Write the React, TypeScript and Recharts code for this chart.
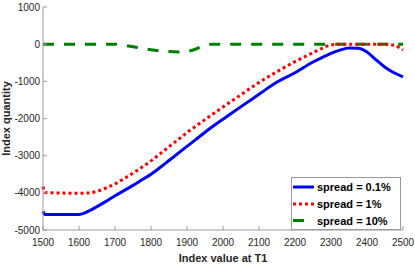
import React from 'react';
import { LineChart, Line, XAxis, YAxis, Legend, Label } from 'recharts';

const indexValues = [1500, 1505, 1525, 1550, 1575, 1600, 1625, 1650, 1675, 1700, 1725, 1750, 1775, 1800, 1825, 1850, 1875, 1900, 1925, 1950, 1975, 2000, 2050, 2100, 2150, 2200, 2250, 2275, 2300, 2325, 2350, 2375, 2400, 2425, 2450, 2475, 2500];
const spread01 = [-4500, -4580, -4585, -4585, -4585, -4580, -4500, -4370, -4230, -4080, -3940, -3800, -3650, -3500, -3320, -3130, -2940, -2750, -2560, -2370, -2190, -2020, -1680, -1350, -1020, -770, -480, -360, -250, -160, -105, -110, -210, -420, -620, -770, -880];
const spread1 = [-3830, -3990, -4000, -4005, -4010, -4010, -4005, -3960, -3870, -3760, -3620, -3470, -3310, -3140, -2950, -2760, -2570, -2380, -2200, -2030, -1860, -1690, -1360, -1030, -740, -470, -230, -110, -20, 0, 0, 0, 0, 0, 0, -30, -160];
const spread10 = [0, 0, 0, 0, 0, 0, 0, 0, 0, 0, -30, -70, -110, -150, -180, -200, -210, -195, -130, -20, 0, 0, 0, 0, 0, 0, 0, 0, 0, 0, 0, 0, 0, 0, 0, 0, 0];
const xTicks = [1500, 1600, 1700, 1800, 1900, 2000, 2100, 2200, 2300, 2400, 2500];
const yTicks = [-5000, -4000, -3000, -2000, -1000, 0, 1000];
const seriesNames = ['spread = 0.1%', 'spread = 1%', 'spread = 10%'];
const xLabel = 'Index value at T1';
const yLabel = 'Index quantity';

const data = indexValues.map((x, i) => ({ x, b: spread01[i], r: spread1[i], g: spread10[i] }));

const AXIS = '#9a9a9a';
const TXT = '#262626';
const FONT = '"Liberation Sans", Arial, Helvetica, sans-serif';
const BLUE = '#0000ff';
const RED = '#ff0000';
const GREEN = '#008000';
const RED_DASH = '3 3';
const GREEN_DASH = '11 10';

const BottomTick = (props: any) => {
  const { x, y, payload } = props;
  return (
    <g>
      <line x1={x} x2={x} y1={y} y2={y - 4} stroke={AXIS} />
      <text x={x} y={y + 16} textAnchor="middle" fontSize={10} fill={TXT} fontFamily={FONT}>{payload.value}</text>
    </g>
  );
};
const TopTick = (props: any) => {
  const { x, y } = props;
  return <line x1={x} x2={x} y1={y} y2={y + 4} stroke={AXIS} />;
};
const LeftTick = (props: any) => {
  const { x, y, payload } = props;
  return (
    <g>
      <line x1={x} x2={x + 4} y1={y} y2={y} stroke={AXIS} />
      <text x={x - 3} y={y + 3.5} textAnchor="end" fontSize={10} fill={TXT} fontFamily={FONT}>{payload.value}</text>
    </g>
  );
};
const RightTick = (props: any) => {
  const { x, y } = props;
  return <line x1={x} x2={x - 4} y1={y} y2={y} stroke={AXIS} />;
};

const LegendBox = () => {
  const rows = [
    { name: seriesNames[0], color: BLUE, dash: undefined },
    { name: seriesNames[1], color: RED, dash: RED_DASH },
    { name: seriesNames[2], color: GREEN, dash: GREEN_DASH },
  ];
  const ys = [10, 27, 43.5];
  return (
    <svg width={110} height={53} style={{ display: 'block' }}>
      <rect x={0.5} y={0.5} width={109} height={52} fill="#fff" stroke={AXIS} />
      {rows.map((r, i) => (
        <g key={r.name}>
          <line x1={2} x2={23} y1={ys[i]} y2={ys[i]} stroke={r.color} strokeWidth={3} strokeDasharray={r.dash} />
          <text x={26} y={ys[i] + 4} fontSize={11} fontWeight="bold" fill="#000" fontFamily={FONT}>{r.name}</text>
        </g>
      ))}
    </svg>
  );
};

export default function App() {
  return (
    <div style={{ position: 'absolute', left: 0, top: 0, width: 415, height: 266, background: '#fff' }}>
      <LineChart width={415} height={266} data={data} margin={{ top: 7, right: 12, bottom: 0, left: 0 }}>
        <XAxis dataKey="x" type="number" domain={[1500, 2500]} ticks={xTicks} interval={0} height={36}
          axisLine={{ stroke: AXIS }} tickLine={false} tickSize={0} tickMargin={0} tick={<BottomTick />}>
          <Label content={(p: any) => {
            const vb = p.viewBox;
            return <text x={vb.x + vb.width / 2} y={vb.y + 32} textAnchor="middle" fontSize={11} fontWeight="bold" fill={TXT} fontFamily={FONT}>{xLabel}</text>;
          }} />
        </XAxis>
        <XAxis xAxisId="top" orientation="top" dataKey="x" type="number" domain={[1500, 2500]} ticks={xTicks} interval={0} height={0}
          axisLine={{ stroke: AXIS }} tickLine={false} tickSize={0} tickMargin={0} tick={<TopTick />} />
        <YAxis type="number" domain={[-5000, 1000]} ticks={yTicks} interval={0} width={43}
          axisLine={{ stroke: AXIS }} tickLine={false} tickSize={0} tickMargin={0} tick={<LeftTick />}>
          <Label content={(p: any) => {
            const vb = p.viewBox;
            const cx = vb.x + 10;
            const cy = vb.y + vb.height / 2;
            return <text x={cx} y={cy} transform={`rotate(-90 ${cx} ${cy})`} textAnchor="middle" fontSize={11} fontWeight="bold" fill={TXT} fontFamily={FONT}>{yLabel}</text>;
          }} />
        </YAxis>
        <YAxis yAxisId="right" orientation="right" type="number" domain={[-5000, 1000]} ticks={yTicks} interval={0} width={0}
          axisLine={{ stroke: AXIS }} tickLine={false} tickSize={0} tickMargin={0} tick={<RightTick />} />
        <Line type="monotone" dataKey="b" name={seriesNames[0]} stroke={BLUE} strokeWidth={3} dot={false} isAnimationActive={false} />
        <Line type="monotone" dataKey="g" name={seriesNames[2]} stroke={GREEN} strokeWidth={3} strokeDasharray={GREEN_DASH} dot={false} isAnimationActive={false} />
        <Line type="monotone" dataKey="r" name={seriesNames[1]} stroke={RED} strokeWidth={3} strokeDasharray={RED_DASH} dot={false} isAnimationActive={false} />
        <Legend layout="vertical" align="center" verticalAlign="middle" wrapperStyle={{ left: 291, top: 177, width: 110, height: 53 }} content={() => <LegendBox />} />
      </LineChart>
    </div>
  );
}
